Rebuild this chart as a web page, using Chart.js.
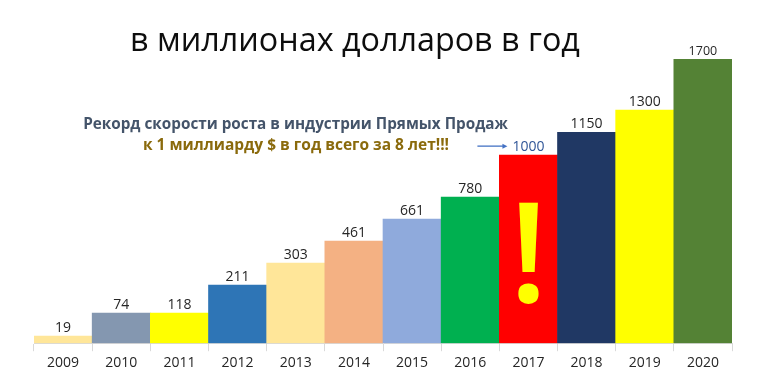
<!DOCTYPE html>
<html>
<head>
<meta charset="utf-8">
<script src="https://cdn.jsdelivr.net/npm/chart.js@4/dist/chart.umd.min.js"></script>
<style>
  html, body { margin: 0; padding: 0; background: #fff; }
</style>
</head>
<body>
<canvas id="salesChart" width="768" height="392"></canvas>
<script>
const years = ['2009', '2010', '2011', '2012', '2013', '2014', '2015', '2016', '2017', '2018', '2019', '2020'];
// numbers printed above the bars (millions of dollars per year)
const salesMillions = [19, 74, 118, 211, 303, 461, 661, 780, 1000, 1150, 1300, 1700];
// bar heights as drawn on the slide (the slide does not draw them to scale)
const barHeights = [42, 180, 180, 347, 479, 611, 742, 874, 1125, 1261, 1395, 1700];

const barColors = ['#FFE699', '#8497B0', '#FFFF00', '#2E75B6', '#FFE699', '#F4B183',
                   '#8FAADC', '#00B050', '#FF0000', '#203864', '#FFFF00', '#548235'];

const FONT = '"Open Sans", "Noto Sans", sans-serif';

// sets a font size so the text spans the given width
function fitText(c, text, weight, width) {
    c.font = weight + ' 100px ' + FONT;
    const size = 100 * width / c.measureText(text).width;
    c.font = weight + ' ' + size.toFixed(2) + 'px ' + FONT;
}

const slideText = {
    id: 'slideText',
    afterDatasetsDraw(chart) {
        const c = chart.ctx;
        const bars = chart.getDatasetMeta(0).data;
        c.save();
        c.textAlign = 'center';
        c.textBaseline = 'alphabetic';

        // big exclamation mark inside the 2017 bar
        const record = bars[years.indexOf('2017')];
        c.fillStyle = '#FFFF00';
        c.font = '600 140px ' + FONT;
        c.fillText('!', record.x, 302);

        // value labels
        bars.forEach((bar, i) => {
            const isRecord = years[i] === '2017';
            const isLast = i === bars.length - 1;
            c.fillStyle = isRecord ? '#2F5597' : '#262626';
            c.font = (isLast ? '12.5px ' : '14px ') + FONT;
            c.fillText(String(salesMillions[i]), bar.x, bar.y - 4);
        });

        // arrow pointing at the 1000 label
        c.font = '14px ' + FONT;
        const labelLeft = record.x - c.measureText('1000').width / 2;
        const ay = record.y - 9;
        const ax2 = labelLeft - 5, ax1 = ax2 - 30;
        c.strokeStyle = '#4472C4';
        c.fillStyle = '#4472C4';
        c.lineWidth = 1.3;
        c.beginPath();
        c.moveTo(ax1, ay);
        c.lineTo(ax2 - 4, ay);
        c.stroke();
        c.beginPath();
        c.moveTo(ax2, ay);
        c.lineTo(ax2 - 5, ay - 2.5);
        c.lineTo(ax2 - 5, ay + 2.5);
        c.closePath();
        c.fill();

        // slide title
        c.fillStyle = '#0D0D0D';
        fitText(c, 'в миллионах долларов в год', 'normal', 450);
        c.fillText('в миллионах долларов в год', 355, 51);

        // headline
        c.fillStyle = '#44546A';
        fitText(c, 'Рекорд скорости роста в индустрии Прямых Продаж', 'bold', 425);
        c.fillText('Рекорд скорости роста в индустрии Прямых Продаж', 295.5, 129);
        c.fillStyle = '#8A6A0C';
        fitText(c, 'к 1 миллиарду $ в год всего за 8 лет!!!', 'bold', 306);
        c.fillText('к 1 миллиарду $ в год всего за 8 лет!!!', 296, 150);

        c.restore();
    }
};

const ctx = document.getElementById('salesChart').getContext('2d');

const salesChart = new Chart(ctx, {
    type: 'bar',
    data: {
        labels: years,
        datasets: [{
            data: barHeights,
            backgroundColor: barColors,
            borderWidth: 0,
            barPercentage: 1,
            categoryPercentage: 1
        }]
    },
    options: {
        responsive: false,
        animation: false,
        devicePixelRatio: 1,
        layout: {
            padding: { left: 34, right: 36, top: 59, bottom: 18 }
        },
        plugins: {
            legend: { display: false },
            tooltip: { enabled: false }
        },
        scales: {
            y: {
                display: false,
                min: 0,
                max: 1700
            },
            x: {
                grid: {
                    drawOnChartArea: false,
                    tickLength: 8,
                    color: '#D9D9D9'
                },
                border: { color: '#D9D9D9' },
                ticks: {
                    color: '#262626',
                    padding: 3,
                    font: { family: FONT, size: 14 }
                }
            }
        }
    },
    plugins: [slideText]
});
</script>
</body>
</html>
